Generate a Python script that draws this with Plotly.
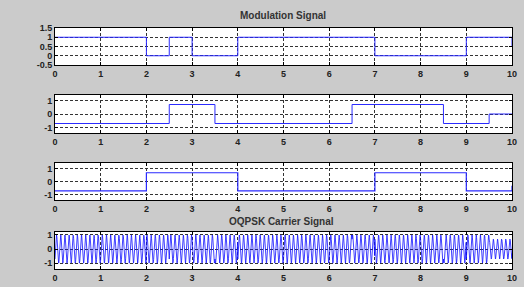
import numpy as np
import plotly.graph_objects as go

# ---- data ----
x_ticks = [0, 1, 2, 3, 4, 5, 6, 7, 8, 9, 10]

mod_edges = [0, 2, 2.5, 3, 4, 7, 9, 10]
mod_vals = [1, 0, 1, 0, 1, 0, 1, 0.5]

q_edges = [0, 2.5, 3.5, 6.5, 8.5, 9.5, 10]
q_vals = [-0.7, 0.7, -0.7, 0.7, -0.7, 0, 0]

i_edges = [0, 2, 4, 7, 9, 10]
i_vals = [-0.7, 0.7, -0.7, 0.7, -0.7, -0.3]

carrier_cycles_per_unit = 11

titles = ["Modulation Signal", "OQPSK Carrier Signal"]

# carrier built from the read I/Q step levels
t = np.linspace(0, 10, 2401)
def step(edges, vals, tt):
    idx = np.searchsorted(edges, tt, side="right") - 1
    idx = np.clip(idx, 0, len(vals) - 1)
    return np.array(vals)[idx]
I_t = step(i_edges, i_vals, t)
Q_t = step(q_edges, q_vals, t)
carrier = I_t * np.cos(2 * np.pi * carrier_cycles_per_unit * t) - Q_t * np.sin(2 * np.pi * carrier_cycles_per_unit * t)

W, H = 524, 287
BG = "#cbcbcb"
FONT = "Liberation Sans"
x0, x1 = 55 / W, 512 / W

def ydom(top, bot):
    return [1 - bot / H, 1 - top / H]

panels = [
    dict(dom=ydom(28, 65), rng=[-0.5, 1.5], tv=[-0.5, 0, 0.5, 1, 1.5], tt=["-0.5", "0", "0.5", "1", "1.5"]),
    dict(dom=ydom(95, 133), rng=[-1.4, 1.4], tv=[-1, 0, 1], tt=["-1", "0", "1"]),
    dict(dom=ydom(163, 200), rng=[-1.4, 1.45], tv=[-1, 0, 1], tt=["-1", "0", "1"]),
    dict(dom=ydom(232, 269), rng=[-1.4, 1.2], tv=[-1, 0, 1], tt=["-1", "0", "1"]),
]

fig = go.Figure()
LC = "#2a2aff"
fig.add_trace(go.Scatter(x=mod_edges, y=mod_vals, mode="lines", line=dict(color=LC, width=1, shape="hv"),
                         xaxis="x", yaxis="y", hoverinfo="skip"))
fig.add_trace(go.Scatter(x=q_edges, y=q_vals, mode="lines", line=dict(color=LC, width=1, shape="hv"),
                         xaxis="x2", yaxis="y2", hoverinfo="skip"))
fig.add_trace(go.Scatter(x=i_edges, y=i_vals, mode="lines", line=dict(color=LC, width=1.2, shape="hv"),
                         xaxis="x3", yaxis="y3", hoverinfo="skip"))
fig.add_trace(go.Scatter(x=t, y=carrier, mode="lines", line=dict(color="#1010ff", width=0.8),
                         xaxis="x4", yaxis="y4", hoverinfo="skip"))

layout = dict(
    width=W, height=H, paper_bgcolor=BG, plot_bgcolor="white",
    margin=dict(l=0, r=0, t=0, b=0, autoexpand=False), showlegend=False,
    font=dict(family=FONT, size=9, color="#222"),
)
for k, p in enumerate(panels):
    sfx = "" if k == 0 else str(k + 1)
    common = dict(
        showline=True, mirror="ticks", linecolor="black", linewidth=1,
        ticks="inside", ticklen=3, tickcolor="black",
        showgrid=True, gridcolor="#333", griddash="3px,2px", gridwidth=1,
        zeroline=False, automargin=False,
        tickfont=dict(family=FONT, size=9, color="#222", weight="bold"),
    )
    layout["xaxis" + sfx] = dict(
        domain=[x0, x1], anchor="y" + sfx, range=[0, 10], tickvals=x_ticks,
        ticktext=[str(v) for v in x_ticks], **common,
    )
    layout["yaxis" + sfx] = dict(
        domain=p["dom"], anchor="x" + sfx, range=p["rng"], tickvals=p["tv"], ticktext=p["tt"],
        **common,
    )
fig.update_layout(**layout)

fig.add_annotation(text="<b>" + titles[0] + "</b>", x=283 / W, y=1 - 15 / H, xref="paper", yref="paper",
                   showarrow=False, font=dict(family=FONT, size=10, color="#333"), xanchor="center", yanchor="middle")
fig.add_annotation(text="<b>" + titles[1] + "</b>", x=281 / W, y=1 - 221 / H, xref="paper", yref="paper",
                   showarrow=False, font=dict(family=FONT, size=10, color="#333"), xanchor="center", yanchor="middle")

fig.write_html("out.html", config={"displayModeBar": False},
               post_script="document.body.style.margin='0px';document.body.style.padding='0px';document.body.style.background='%s';" % BG)
